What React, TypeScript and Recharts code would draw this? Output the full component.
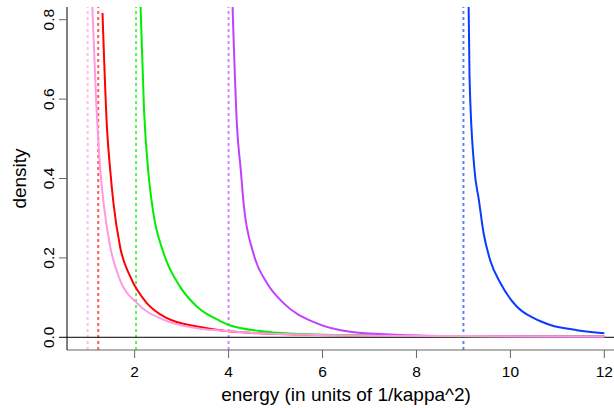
import { Label, Line, LineChart, ReferenceLine, XAxis, YAxis } from "recharts";

type Pt = { e: number; d: number };

// energy thresholds (dotted lines)
const thresholds = [1.0, 1.225, 2.03, 4.0, 9.0];

// density curves
const pinkE = [1.08, 1.18, 1.27, 1.34, 1.48, 1.69, 2.05, 2.62, 3.33, 3.82, 4.5, 5.5, 7, 9, 12];
const pinkD = [0.89, 0.597, 0.421, 0.337, 0.228, 0.144, 0.086, 0.044, 0.023, 0.017, 0.011, 0.007, 0.004, 0.003, 0.002];

const redE = [1.316, 1.41, 1.48, 1.55, 1.69, 1.91, 2.26, 2.69, 3.33, 3.82, 4.5, 5.5, 7, 9, 12];
const redD = [0.817, 0.53, 0.421, 0.337, 0.228, 0.152, 0.086, 0.048, 0.027, 0.018, 0.011, 0.007, 0.004, 0.003, 0.002];

const greenE = [2.11, 2.2, 2.3, 2.4, 2.62, 2.97, 3.33, 3.82, 4.0, 4.82, 5.5, 6.5, 8, 10, 12];
const greenD = [0.89, 0.572, 0.405, 0.312, 0.211, 0.127, 0.077, 0.041, 0.031, 0.014, 0.008, 0.005, 0.003, 0.002, 0.0015];

const purpleE = [4.07, 4.18, 4.26, 4.32, 4.53, 4.82, 5.17, 5.88, 6.59, 7.66, 9, 10.5, 12];
const purpleD = [0.89, 0.53, 0.421, 0.337, 0.211, 0.136, 0.086, 0.035, 0.014, 0.006, 0.003, 0.002, 0.0015];

const blueE = [9.105, 9.13, 9.23, 9.33, 9.43, 9.57, 9.79, 10.14, 10.5, 10.85, 11.42, 12];
const blueD = [0.89, 0.656, 0.429, 0.345, 0.262, 0.194, 0.136, 0.077, 0.048, 0.031, 0.018, 0.01];

const xTicks = [2, 4, 6, 8, 10, 12];
const yTicks = [0, 0.2, 0.4, 0.6, 0.8];

const zip = (es: number[], ds: number[]): Pt[] => es.map((e, i) => ({ e, d: ds[i] }));

const series = [
  { name: "red", color: "#ff0000", data: zip(redE, redD) },
  { name: "green", color: "#00ee00", data: zip(greenE, greenD) },
  { name: "purple", color: "#c040ff", data: zip(purpleE, purpleD) },
  { name: "blue", color: "#0a3cff", data: zip(blueE, blueD) },
  { name: "pink", color: "#ff99e0", data: zip(pinkE, pinkD) },
];

const thresholdColors = ["#ff99e0", "#ff0000", "#00ee00", "#c040ff", "#0a3cff"];

const FONT = "'Liberation Sans', Arial, Helvetica, sans-serif";

function YTick(props: any) {
  const { x, y, payload } = props;
  const v = payload.value as number;
  return (
    <g>
      <line x1={x} x2={x + 8} y1={y} y2={y} stroke={v === 0 ? "#000" : "#666"} />
      <text
        x={x - 5}
        y={y}
        transform={`rotate(-90, ${x - 5}, ${y})`}
        textAnchor="middle"
        fontSize={15.5}
        fontFamily={FONT}
        fill="#000"
      >
        {v.toFixed(1)}
      </text>
    </g>
  );
}

function XTick(props: any) {
  const { x, y, payload } = props;
  return (
    <g>
      <line x1={x} x2={x} y1={y - 8} y2={y} stroke="#666" />
      <text x={x} y={y + 19} textAnchor="middle" fontSize={15.5} fontFamily={FONT} fill="#000">
        {payload.value}
      </text>
    </g>
  );
}

export default function App() {
  return (
    <div
      style={{
        position: "absolute",
        left: 0,
        top: 0,
        width: 614,
        height: 408,
        overflow: "hidden",
        background: "#fff",
      }}
    >
      <LineChart width={625} height={408} margin={{ top: 7, right: 0, bottom: 0, left: 0 }}>
        <XAxis
          dataKey="e"
          type="number"
          domain={[0.56, 12.44]}
          ticks={xTicks}
          allowDataOverflow
          height={58}
          tickSize={8}
          tickMargin={0}
          tickLine={false}
          axisLine={{ stroke: "#666" }}
          tick={<XTick />}
        >
          <Label
            content={(p: any) => {
              const vb = p.viewBox;
              return (
                <text
                  x={vb.x + vb.width / 2}
                  y={vb.y + 51}
                  textAnchor="middle"
                  fontSize={19}
                  fontFamily={FONT}
                  fill="#000"
                >
                  energy (in units of 1/kappa^2)
                </text>
              );
            }}
          />
        </XAxis>
        <XAxis
          xAxisId="top"
          orientation="top"
          dataKey="e"
          type="number"
          domain={[0.56, 12.44]}
          height={0}
          tick={false}
          tickLine={false}
          axisLine={{ stroke: "#666" }}
        />
        <YAxis
          type="number"
          domain={[-0.032, 0.832]}
          ticks={yTicks}
          allowDataOverflow
          width={67}
          tickSize={8}
          tickMargin={0}
          tickLine={false}
          axisLine={{ stroke: "#000" }}
          tick={<YTick />}
        >
          <Label
            content={(p: any) => {
              const vb = p.viewBox;
              const cy = vb.y + vb.height / 2;
              return (
                <text
                  x={26}
                  y={cy}
                  transform={`rotate(-90, 26, ${cy})`}
                  textAnchor="middle"
                  fontSize={19}
                  fontFamily={FONT}
                  fill="#000"
                >
                  density
                </text>
              );
            }}
          />
        </YAxis>
        {thresholds.map((t, i) => (
          <ReferenceLine
            key={t}
            x={t}
            stroke={thresholdColors[i]}
            strokeOpacity={0.65}
            strokeWidth={2}
            strokeDasharray="3 3"
          />
        ))}
        <ReferenceLine y={0} stroke="#000" strokeWidth={1} />
        {series.map((s) => (
          <Line
            key={s.name}
            data={s.data}
            dataKey="d"
            type="monotone"
            stroke={s.color}
            strokeWidth={2}
            dot={false}
            activeDot={false}
            isAnimationActive={false}
          />
        ))}
      </LineChart>
    </div>
  );
}
